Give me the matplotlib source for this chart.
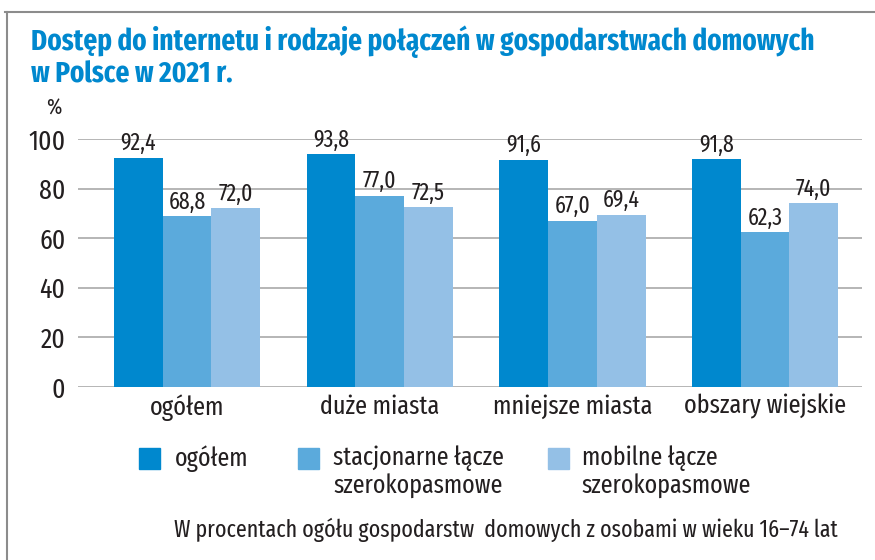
import matplotlib
matplotlib.use("Agg")
import matplotlib.pyplot as plt
from matplotlib import font_manager as fm
from matplotlib.patches import Rectangle
from matplotlib.lines import Line2D
from matplotlib.transforms import ScaledTranslation
import numpy as np

categories = ["ogółem", "duże miasta", "mniejsze miasta", "obszary wiejskie"]
series_names = ["ogółem", "stacjonarne łącze\nszerokopasmowe", "mobilne łącze\nszerokopasmowe"]
ogolem = [92.4, 93.8, 91.6, 91.8]
stacjonarne = [68.8, 77.0, 67.0, 62.3]
mobilne = [72.0, 72.5, 69.4, 74.0]
yticks = [0, 20, 40, 60, 80, 100]
title = "Dostęp do internetu i rodzaje połączeń w gospodarstwach domowych\nw Polsce w 2021 r."
footnote = "W procentach ogółu gospodarstw  domowych z osobami w wieku 16–74 lat"

available = set(f.name for f in fm.fontManager.ttflist)
def pick(cands):
    for c in cands:
        if c in available:
            return c
    return "DejaVu Sans"
FONT = pick(["Fira Sans Extra Condensed", "Fira Sans Condensed", "PT Sans Narrow", "Roboto Condensed", "DejaVu Sans"])
plt.rcParams['font.family'] = [FONT, "DejaVu Sans"]

colors = ["#0088CE", "#5BAADC", "#94C0E6"]
text_color = "#231F20"
W, H = 875, 560

fig = plt.figure(figsize=(8.75, 5.6), dpi=100)
ax = fig.add_axes([78 / W, 1 - 387 / H, (862 - 78) / W, (387 - 139) / H])

x = np.arange(len(categories))
bw = 0.253
for i, (vals, c) in enumerate(zip([ogolem, stacjonarne, mobilne], colors)):
    bars = ax.bar(x + (i - 1) * bw, vals, width=bw, color=c, zorder=3)
    for b, v in zip(bars, vals):
        ax.annotate(f"{v:.1f}".replace(".", ","), (b.get_x() + b.get_width() / 2, v),
                    xytext=(0, 2), textcoords="offset points", ha="center", va="bottom",
                    fontsize=17, color=text_color, zorder=5, annotation_clip=False)

ax.set_ylim(0, 100)
ax.set_xlim(-0.566, 3.503)
ax.set_yticks(yticks)
ax.set_yticklabels([str(t) for t in yticks], fontsize=20, color=text_color)
ax.set_xticks(x)
ax.set_xticklabels(categories, fontsize=19, color=text_color)
# small horizontal shifts of category labels (in pixels) as in the reference layout
shifts_px = [-15, -12, -6, 0]
for lbl, dx in zip(ax.get_xticklabels(), shifts_px):
    lbl.set_transform(lbl.get_transform() + ScaledTranslation(dx / 100, 0, fig.dpi_scale_trans))
ax.tick_params(axis="both", length=0)
ax.tick_params(axis="y", pad=9)
ax.tick_params(axis="x", pad=5)
ax.grid(axis="y", color="#B5B5B5", linewidth=1.4, zorder=0)
for s in ax.spines.values():
    s.set_visible(False)
ax.set_facecolor("none")

fig.text(31 / W, 1 - 25 / H, title, ha="left", va="top", fontsize=21.2, fontweight="bold",
         color="#0088CE", linespacing=1.15)
fig.text(54 / W, 1 - 108 / H, "%", ha="center", va="center", fontsize=16, color=text_color)

# frame lines
fig.add_artist(Line2D([5 / W, 1], [1 - 12 / H, 1 - 12 / H], color="#8C8C8C", linewidth=1.5))
fig.add_artist(Line2D([7 / W, 7 / W], [0, 1 - 12 / H], color="#8C8C8C", linewidth=1.5))

# legend
mk_x = [139, 298, 548]
tx_x = [175, 333, 582]
for mx, tx, c, name in zip(mk_x, tx_x, colors, series_names):
    fig.add_artist(Rectangle((mx / W, 1 - 469 / H), 21 / W, 21 / H, color=c, transform=fig.transFigure))
    fig.text(tx / W, 1 - 445 / H, name, ha="left", va="top", fontsize=18.8, color=text_color, linespacing=1.12)

fig.text(838 / W, 1 - 530 / H, footnote, ha="right", va="center", fontsize=17.2, color=text_color)

fig.savefig("out.png", dpi=100)
